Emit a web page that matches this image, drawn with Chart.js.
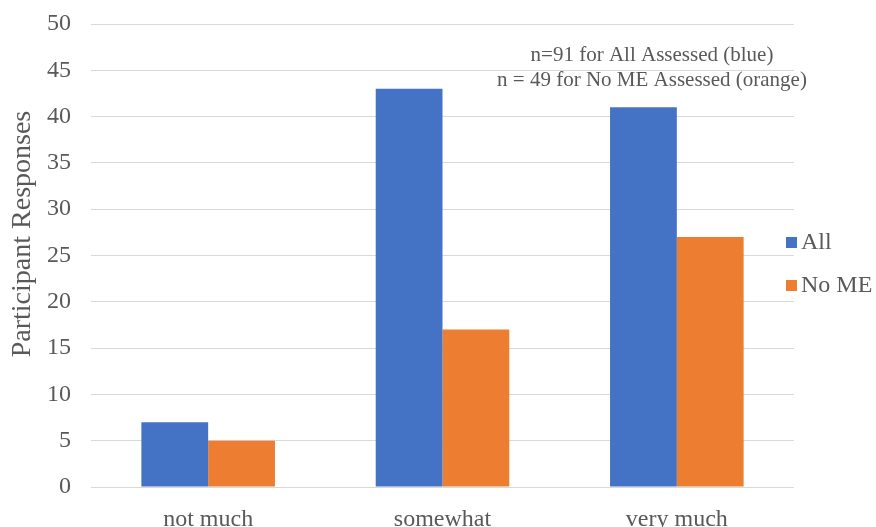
<!DOCTYPE html>
<html>
<head>
<meta charset="utf-8">
<script src="https://cdn.jsdelivr.net/npm/chart.js@4/dist/chart.umd.min.js"></script>
<style>
  html, body { margin: 0; padding: 0; background: #fff; }
  #wrap { width: 876px; height: 527px; }
</style>
</head>
<body>
<div id="wrap"><canvas id="c" width="876" height="527"></canvas></div>
<script>
const categories = ['not much', 'somewhat', 'very much'];
const allAssessed = [7, 43, 41];
const noMEAssessed = [5, 17, 27];
const seriesNames = ['All', 'No ME'];
const seriesColors = ['#4472C4', '#ED7D31'];
const yAxisTitle = 'Participant Responses';
const noteLines = ['n=91 for All Assessed (blue)', 'n = 49 for No ME Assessed (orange)'];

const FONT = '"Liberation Serif", "Times New Roman", serif';
const TEXT = '#595959';

// Axis title, legend and sample-size note drawn on the canvas around the plot
const sidePlugin = {
  id: 'side',
  afterDraw(chart) {
    const ctx = chart.ctx;
    ctx.save();
    ctx.fillStyle = TEXT;
    ctx.textBaseline = 'middle';

    ctx.save();
    ctx.translate(23, 234);
    ctx.rotate(-Math.PI / 2);
    ctx.textAlign = 'center';
    ctx.font = '28px ' + FONT;
    ctx.fillText(yAxisTitle, 0, 0);
    ctx.restore();

    ctx.font = '24px ' + FONT;
    ctx.textAlign = 'left';
    chart.data.datasets.forEach((ds, i) => {
      const y = 242 + i * 43;
      ctx.fillStyle = ds.backgroundColor;
      ctx.fillRect(786, y - 5, 11, 11);
      ctx.fillStyle = TEXT;
      ctx.fillText(ds.label, 801, y + 1);
    });

    ctx.font = '21px ' + FONT;
    ctx.textAlign = 'center';
    noteLines.forEach((t, i) => ctx.fillText(t, 652, 55 + i * 25));
    ctx.restore();
  }
};

new Chart(document.getElementById('c'), {
  type: 'bar',
  data: {
    labels: categories,
    datasets: [
      { label: seriesNames[0], data: allAssessed, backgroundColor: seriesColors[0] },
      { label: seriesNames[1], data: noMEAssessed, backgroundColor: seriesColors[1] }
    ]
  },
  options: {
    responsive: false,
    animation: false,
    devicePixelRatio: 1,
    layout: { padding: { top: 24, right: 82, left: 0, bottom: 0 } },
    datasets: { bar: { categoryPercentage: 0.57, barPercentage: 1.0, borderWidth: 0 } },
    plugins: { legend: { display: false }, tooltip: { enabled: false } },
    scales: {
      x: {
        grid: { display: false },
        border: { display: false },
        ticks: { color: TEXT, font: { family: FONT, size: 24 }, padding: 10 },
        afterFit(s) { s.height = 40; s.paddingLeft = 0; s.paddingRight = 0; }
      },
      y: {
        min: 0, max: 50,
        ticks: { stepSize: 5, color: TEXT, font: { family: FONT, size: 24 }, padding: 20 },
        grid: { color: '#d9d9d9', lineWidth: 1, drawTicks: false },
        border: { display: false },
        afterFit(s) { s.width = 91; s.paddingTop = 0; s.paddingBottom = 0; }
      }
    }
  },
  plugins: [sidePlugin]
});
</script>
</body>
</html>
